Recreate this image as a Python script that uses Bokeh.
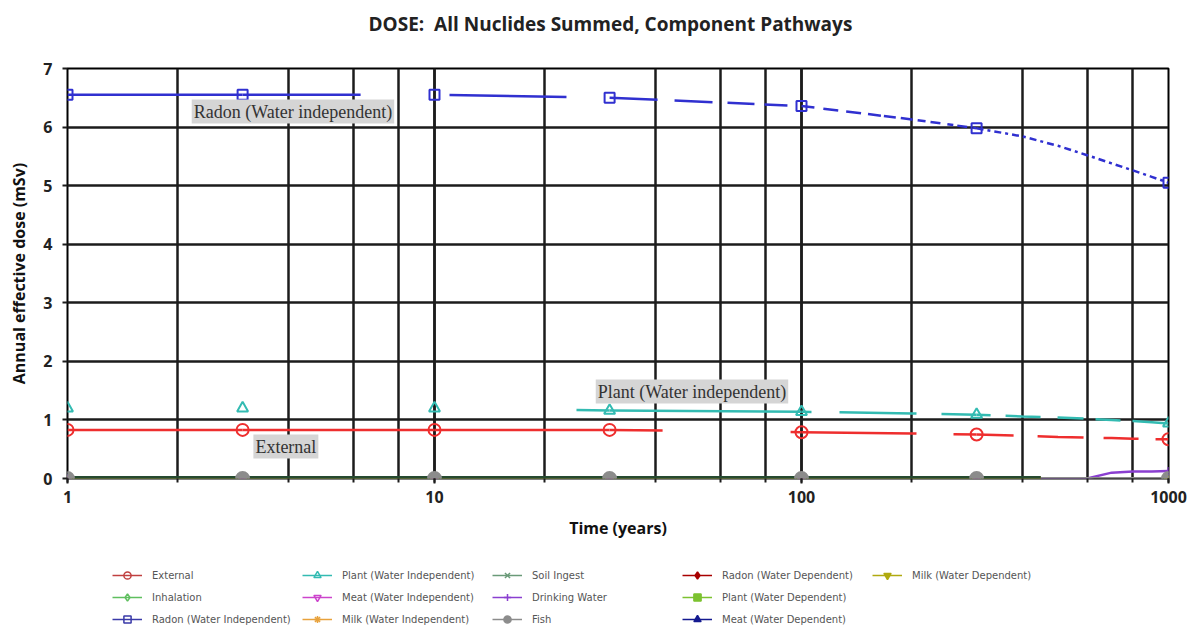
from bokeh.plotting import figure
from bokeh.layouts import column
from bokeh.models import (Legend, LegendItem, Label, FixedTicker, LogTicker,
                          NumeralTickFormatter)
from bokeh.embed import file_html
from bokeh.resources import INLINE

# ---- data (mSv per year) -------------------------------------------------
years = [1, 3, 10, 30, 100, 200, 300, 400, 500, 600, 700, 800, 900, 1000]
marker_years = [1, 3, 10, 30, 100, 300, 1000]

external = [0.83, 0.83, 0.83, 0.83, 0.79, 0.77, 0.75, 0.73, 0.71, 0.70, 0.69, 0.68, 0.67, 0.67]
plant_wi = [1.20, 1.20, 1.20, 1.16, 1.14, 1.11, 1.09, 1.06, 1.04, 1.02, 1.00, 0.98, 0.96, 0.94]
radon_wi = [6.55, 6.55, 6.55, 6.50, 6.36, 6.13, 5.98, 5.84, 5.68, 5.52, 5.38, 5.26, 5.15, 5.05]
drinking = [0.0, 0.0, 0.0, 0.0, 0.0, 0.0, 0.0, 0.0, 0.0, 0.0, 0.10, 0.12, 0.12, 0.13]
fish = [0.0] * 14
inhalation = [0.0] * 14
meat_wi = [0.0] * 14
milk_wi = [0.0] * 14
soil_ingest = [0.0] * 14
radon_wd = [0.0] * 14
plant_wd = [0.0] * 14
meat_wd = [0.0] * 14
milk_wd = [0.0] * 14

# ---- styling ------------------------------------------------------------
SANS = "Open Sans"
GRID = "#1c1c1c"
NAN = float("nan")

# dash pattern for each span between consecutive marker years
dash_external = ["solid", "solid", "solid", "53 128 12 50", "115 37 30 10",
                 "37 24 46 20 35 17 20 10"]
dash_plant = [None, None, "0 142 40 10", "solid", "10 28 77 25 40 10",
              "14 15 35 17 26 12 25 12 40 10"]
dash_radon = ["solid", "118 200", "0 15 117 200", "48 17 38 15 27 10 23 30",
              "13 9 15 8 15 7 13 3 12 5 12 5 8 5 10 7 6 4 10 6", "7 4 3 4"]
dash_zero = ["solid"] * 5 + ["64 300"]
dash_plain = ["solid"] * 6

# marker sizes on the chart
marker_size = {"External": 12, "Plant (Water Independent)": 11,
               "Radon (Water Independent)": 10, "Fish": 13}


def bare_figure(height):
    f = figure(width=1187, height=height, x_range=(0, 1), y_range=(0, 1),
               x_axis_location=None, y_axis_location=None,
               output_backend="svg", toolbar_location=None, min_border=0,
               outline_line_color=None, background_fill_color="white",
               border_fill_color="white")
    f.grid.visible = False
    return f


# ---- title strip ----------------------------------------------------------
tf = bare_figure(58)
tf.title.text = "DOSE:\u00a0 All Nuclides Summed, Component Pathways"
tf.title.align = "left"
tf.title.offset = 301
tf.title.vertical_align = "top"
tf.title.text_font = SANS
tf.title.text_font_size = "19px"
tf.title.text_font_style = "bold"
tf.title.text_color = "#222222"
tf.title.standoff = 20

# ---- main chart -----------------------------------------------------------
p = figure(width=1187, height=487, x_axis_type="log",
           x_range=(1, 1000), y_range=(0, 7),
           output_backend="svg", toolbar_location=None,
           min_border_left=67, min_border_right=19,
           min_border_top=10, min_border_bottom=67,
           background_fill_color="white", border_fill_color="white")

p.outline_line_color = "black"
p.outline_line_width = 2
p.outline_line_alpha = 1

for grid in (p.xgrid, p.ygrid):
    grid.grid_line_color = GRID
    grid.grid_line_width = 2.5
p.xgrid.minor_grid_line_color = GRID
p.xgrid.minor_grid_line_width = 2.5

p.yaxis.ticker = FixedTicker(ticks=[0, 1, 2, 3, 4, 5, 6, 7])
p.xaxis.ticker = LogTicker()
p.xaxis.formatter = NumeralTickFormatter(format="0")

for ax in (p.xaxis, p.yaxis):
    ax.axis_line_color = None
    ax.major_tick_line_color = GRID
    ax.major_tick_line_width = 2
    ax.major_tick_out = 5
    ax.major_tick_in = 0
    ax.minor_tick_line_color = GRID
    ax.minor_tick_line_width = 2
    ax.minor_tick_out = 4
    ax.minor_tick_in = 0
    ax.major_label_text_font = SANS
    ax.major_label_text_font_size = "16px"
    ax.major_label_text_font_style = "bold"
    ax.major_label_text_color = "#222222"
    ax.axis_label_text_font = SANS
    ax.axis_label_text_font_size = "16px"
    ax.axis_label_text_font_style = "bold"
    ax.axis_label_text_color = "#111111"

p.xaxis.axis_label = "Time (years)"
p.yaxis.axis_label = "Annual effective dose (mSv)"
p.xaxis.major_label_standoff = 7
p.xaxis.axis_label_standoff = 11
p.yaxis.major_label_standoff = 10
p.yaxis.axis_label_standoff = 10


def draw_series(vals, color, width, dashes):
    """Draw a series span by span between marker years."""
    for i in range(len(marker_years) - 1):
        dash = dashes[i]
        if dash is None:
            continue
        lo, hi = marker_years[i], marker_years[i + 1]
        xs = [t for t in years if lo <= t <= hi]
        ys = [v for t, v in zip(years, vals) if lo <= t <= hi]
        p.line(xs, ys, line_color=color, line_width=width, line_dash=dash)


def draw_markers(vals, color, marker, size, filled):
    ys = [v for t, v in zip(years, vals) if t in marker_years]
    p.scatter(marker_years, ys, marker=marker, size=size,
              line_color=color, line_width=2,
              fill_color=color if filled else None)


series = [
    # label, values, color, marker, filled, dashes, line width
    ("External", external, "#ee2e2e", "circle", False, dash_external, 2.5),
    ("Inhalation", inhalation, "#5fbf5f", "diamond", False, dash_zero, 4),
    ("Radon (Water Independent)", radon_wi, "#3030d0", "square", False, dash_radon, 2.5),
    ("Plant (Water Independent)", plant_wi, "#33bbb2", "triangle", False, dash_plant, 2.5),
    ("Meat (Water Independent)", meat_wi, "#cc44cc", "inverted_triangle", False, dash_zero, 4),
    ("Milk (Water Independent)", milk_wi, "#e8a23c", "asterisk", False, dash_zero, 4),
    ("Soil Ingest", soil_ingest, "#264a30", "x", False, dash_zero, 5),
    ("Drinking Water", drinking, "#8a3fd0", "cross", False, dash_plain, 2.5),
    ("Fish", fish, "#8c8c8c", "circle", True, dash_plain, 3),
    ("Radon (Water Dependent)", radon_wd, "#a80000", "diamond", True, dash_zero, 4),
    ("Plant (Water Dependent)", plant_wd, "#7cc230", "square", True, dash_zero, 4),
    ("Meat (Water Dependent)", meat_wd, "#141a90", "triangle", True, dash_zero, 4),
    ("Milk (Water Dependent)", milk_wd, "#b0aa10", "inverted_triangle", True, dash_zero, 4),
]
legend_colors = {"Soil Ingest": "#6a9a78", "External": "#c04040",
                 "Radon (Water Independent)": "#3a3aa8"}

# drawing order: drinking water and fish first, the zero-valued pathways over
# them, then the three visible pathways on top
line_order = ["Drinking Water", "Fish", "Inhalation", "Meat (Water Independent)",
              "Milk (Water Independent)", "Radon (Water Dependent)",
              "Plant (Water Dependent)", "Meat (Water Dependent)",
              "Milk (Water Dependent)", "Soil Ingest",
              "External", "Plant (Water Independent)", "Radon (Water Independent)"]
marker_order = ["Inhalation", "Meat (Water Independent)", "Milk (Water Independent)",
                "Soil Ingest", "Radon (Water Dependent)", "Plant (Water Dependent)",
                "Meat (Water Dependent)", "Milk (Water Dependent)", "Drinking Water",
                "Fish", "External", "Plant (Water Independent)",
                "Radon (Water Independent)"]

info = {s[0]: s for s in series}
for name in line_order:
    _, vals, color, marker, filled, dashes, w = info[name]
    draw_series(vals, color, w, dashes)
for name in marker_order:
    _, vals, color, marker, filled, dashes, w = info[name]
    draw_markers(vals, color, marker, marker_size.get(name, 8), filled)

# ---- callouts -----------------------------------------------------------
callouts = [("Radon (Water independent)", 2.18, 6.06),
            ("Plant (Water independent)", 27.5, 1.28),
            ("External", 3.21, 0.34)]
for text, cx, cy in callouts:
    p.add_layout(Label(x=cx, y=cy, text=text, text_font="Liberation Serif",
                       text_font_size="18px", text_color="#333333",
                       text_baseline="bottom", background_fill_color="#d5d5d5",
                       padding=2))

# ---- legend strip under the chart: three rows, filled column by column ----
lf = bare_figure(83)
items = []
for name, vals, color, marker, filled, dashes, w in series:
    c = legend_colors.get(name, color)
    ln = lf.line([NAN], [NAN], line_color=c, line_width=1.5)
    sc = lf.scatter([NAN], [NAN], marker=marker, size=14, line_color=c,
                    line_width=1.5, fill_color=c if filled else None)
    items.append(LegendItem(label=name, renderers=[ln, sc]))

legend = Legend(items=items, orientation="vertical", nrows=3,
                location=(45, 0), margin=0, padding=0, spacing=4,
                glyph_width=30, glyph_height=18, label_width=146,
                label_height=18, label_standoff=10,
                label_text_font="DejaVu Sans", label_text_font_size="10px",
                label_text_color="#555555", border_line_alpha=0,
                background_fill_alpha=0)
lf.add_layout(legend, "center")

page = column(tf, p, lf, spacing=0)
with open("out.html", "w") as f:
    f.write(file_html(page, INLINE))
